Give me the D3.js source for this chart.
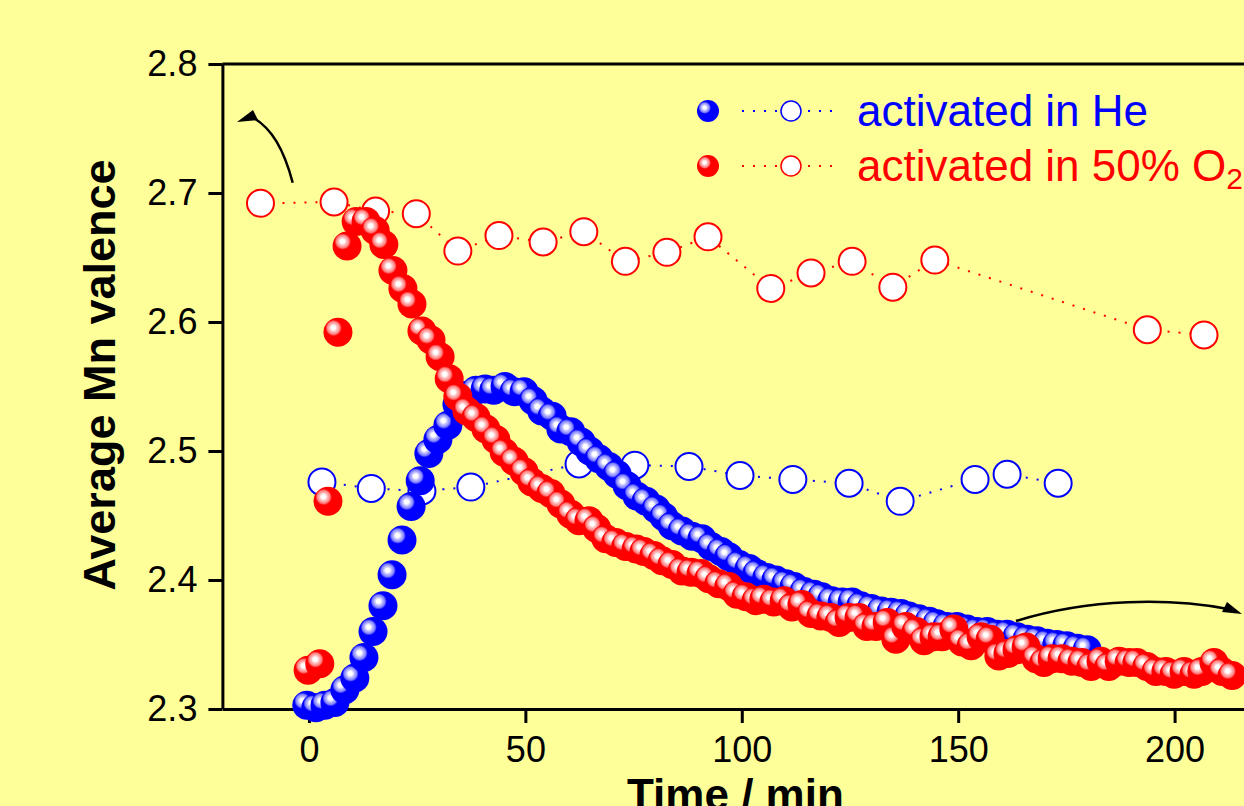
<!DOCTYPE html>
<meta charset="utf-8">
<style>
body { margin: 0; background: #ffff99; }
svg { display: block; background: #ffff99; }
.axis text { font: 36px "Liberation Sans", Arial, sans-serif; fill: #000; }
.axis path, .axis line { stroke: #000; stroke-width: 3; }
.title { font: bold 44px "Liberation Sans", Arial, sans-serif; fill: #000; }
.legend { font: 44px "Liberation Sans", Arial, sans-serif; }
</style>
<svg width="1244" height="806"></svg>
<script src="https://d3js.org/d3.v7.min.js"></script>
<script>

// filled spheres: time-resolved, activated in He
var heTime = [-0.5, 1.6, 3.7, 6.0, 8.3, 10.6, 12.7, 14.8, 17.1, 19.2,
  21.5, 23.6, 25.7, 27.7, 29.8, 32.1, 34.2, 36.3, 38.6, 40.7,
  42.7, 45.3, 47.4, 49.7, 51.8, 53.8, 56.2, 58.2, 60.5, 62.9,
  64.9, 67.0, 69.3, 71.2, 73.5, 75.8, 77.9, 80.2, 82.0, 83.9,
  86.2, 88.5, 90.8, 92.9, 95.2, 97.0, 99.4, 101.7, 103.5, 105.8,
  107.9, 110.2, 112.1, 114.4, 116.7, 118.5, 120.8, 123.2, 125.5, 127.5,
  129.9, 132.2, 134.5, 136.8, 138.6, 140.9, 143.3, 145.1, 147.4, 149.7,
  152.0, 154.3, 156.7, 159.0, 161.3, 163.6, 165.9, 168.2, 170.5, 172.8,
  175.1, 177.5, 179.8];
var heVal = [2.303, 2.301, 2.303, 2.305, 2.315, 2.324, 2.340, 2.360, 2.380, 2.404,
  2.431, 2.457, 2.477, 2.498, 2.509, 2.520, 2.536, 2.543, 2.547, 2.548,
  2.547, 2.550, 2.546, 2.546, 2.539, 2.531, 2.527, 2.517, 2.515, 2.507,
  2.500, 2.494, 2.488, 2.482, 2.473, 2.465, 2.461, 2.455, 2.449, 2.442,
  2.438, 2.434, 2.432, 2.426, 2.422, 2.418, 2.412, 2.409, 2.405, 2.402,
  2.400, 2.397, 2.395, 2.391, 2.389, 2.387, 2.384, 2.383, 2.383, 2.380,
  2.378, 2.376, 2.375, 2.374, 2.372, 2.370, 2.368, 2.366, 2.364, 2.364,
  2.362, 2.360, 2.360, 2.358, 2.358, 2.356, 2.354, 2.353, 2.351, 2.350,
  2.349, 2.347, 2.346];

// filled spheres: time-resolved, activated in 50% O2
var o2Time = [-0.2, 2.5, 4.4, 6.7, 8.8, 10.9, 13.2, 15.3, 17.3, 19.4,
  21.7, 23.8, 26.1, 28.2, 30.3, 32.4, 34.4, 36.5, 38.6, 40.9,
  43.2, 45.1, 47.4, 49.7, 51.5, 53.8, 55.9, 58.2, 60.5, 62.4,
  64.7, 66.5, 68.6, 70.9, 73.2, 75.6, 77.4, 79.7, 81.6, 83.9,
  86.2, 88.3, 90.6, 92.4, 94.7, 97.0, 98.9, 101.0, 103.3, 105.1,
  107.4, 109.8, 111.6, 113.9, 116.0, 118.3, 120.6, 122.5, 124.8, 127.1,
  128.9, 131.0, 133.6, 135.6, 137.9, 140.3, 142.1, 144.4, 146.3, 149.0,
  150.9, 153.0, 155.3, 157.4, 159.4, 161.5, 163.6, 165.7, 168.0, 169.8,
  171.7, 174.0, 176.3, 178.6, 180.7, 183.0, 184.8, 187.2, 189.5, 191.3,
  193.6, 195.7, 198.0, 199.9, 202.2, 204.5, 206.3, 209.1, 211.0, 213.3];
var o2Val = [2.330, 2.335, 2.461, 2.592, 2.659, 2.678, 2.678, 2.671, 2.660, 2.640,
  2.626, 2.614, 2.593, 2.586, 2.573, 2.556, 2.542, 2.531, 2.526, 2.517,
  2.509, 2.499, 2.492, 2.484, 2.476, 2.471, 2.467, 2.459, 2.451, 2.446,
  2.446, 2.440, 2.432, 2.429, 2.426, 2.424, 2.422, 2.419, 2.415, 2.412,
  2.407, 2.406, 2.405, 2.401, 2.397, 2.395, 2.389, 2.387, 2.384, 2.385,
  2.383, 2.384, 2.379, 2.381, 2.374, 2.372, 2.371, 2.367, 2.371, 2.371,
  2.364, 2.364, 2.367, 2.354, 2.364, 2.360, 2.353, 2.356, 2.356, 2.362,
  2.352, 2.349, 2.356, 2.354, 2.341, 2.343, 2.346, 2.348, 2.339, 2.336,
  2.339, 2.339, 2.337, 2.336, 2.333, 2.337, 2.333, 2.337, 2.336, 2.336,
  2.333, 2.329, 2.329, 2.327, 2.329, 2.327, 2.329, 2.336, 2.329, 2.326];

// open circles (second set of measurements)
var heOpenTime = [3.0, 14.4, 26.1, 37.4, 62.4, 75.3, 87.8, 99.6, 111.8, 124.8, 136.6, 153.9, 161.3, 173.1];
var heOpenVal = [2.476, 2.471, 2.469, 2.472, 2.490, 2.489, 2.488, 2.481, 2.478, 2.475, 2.461, 2.478, 2.482, 2.475];
var o2OpenTime = [-11.2, 5.8, 15.4, 24.8, 34.4, 43.9, 54.1, 63.5, 73.1, 82.7, 92.2, 106.7, 116.0, 125.5, 134.9, 144.6, 193.7, 206.8];
var o2OpenVal = [2.692, 2.693, 2.686, 2.684, 2.655, 2.667, 2.662, 2.670, 2.647, 2.654, 2.666, 2.626, 2.638, 2.647, 2.627, 2.648, 2.594, 2.590];

var xMajor = [0, 50, 100, 150, 200];
var xMinor = [25, 75, 125, 175, 225];
var yMajor = [2.3, 2.4, 2.5, 2.6, 2.7, 2.8];
var yMinor = [2.35, 2.45, 2.55, 2.65, 2.75];

var svg = d3.select("svg");

var x = d3.scaleLinear().domain([-20, 250]).range([222.4, 1391]),
    y = d3.scaleLinear().domain([2.3, 2.8]).range([709, 64]);

function pairs(t, v) {
  return t.map(function(d, i) { return [d, v[i]]; });
}

// sphere gradients
var defs = svg.append("defs");
function sphere(id, light, mid, col) {
  var g = defs.append("radialGradient").attr("id", id)
      .attr("cx", 0.36).attr("cy", 0.36).attr("fx", 0.34).attr("fy", 0.34).attr("r", 0.5);
  g.append("stop").attr("offset", 0).attr("stop-color", "#fff");
  g.append("stop").attr("offset", 0.14).attr("stop-color", "#fff");
  g.append("stop").attr("offset", 0.26).attr("stop-color", light);
  g.append("stop").attr("offset", 0.44).attr("stop-color", mid);
  g.append("stop").attr("offset", 0.56).attr("stop-color", col);
  g.append("stop").attr("offset", 1).attr("stop-color", col);
}
sphere("gBlue", "#c4c4ff", "#7d7dff", "#0000ff");
sphere("gRed", "#ffc4c4", "#ff7d7d", "#ff0000");

// axes
var gx = svg.append("g").attr("class", "axis").attr("transform", "translate(0,709)");
gx.call(d3.axisBottom(x).tickValues(xMinor).tickSize(7).tickSizeOuter(0).tickFormat(""));
gx.call(d3.axisBottom(x).tickValues(xMajor).tickSize(14).tickSizeOuter(0).tickPadding(13).tickFormat(d3.format("d")));

var gy = svg.append("g").attr("class", "axis").attr("transform", "translate(222.4,0)");
gy.call(d3.axisLeft(y).tickValues(yMinor).tickSize(7).tickSizeOuter(0).tickFormat(""));
gy.call(d3.axisLeft(y).tickValues(yMajor).tickSize(14).tickSizeOuter(0).tickPadding(11).tickFormat(d3.format(".1f")));

svg.append("line").attr("x1", 222.4).attr("x2", 1244).attr("y1", 64).attr("y2", 64)
    .attr("stroke", "#000").attr("stroke-width", 3);

// open circles with dotted connectors
var line = d3.line().x(function(d) { return x(d[0]); }).y(function(d) { return y(d[1]); });
[[heOpenTime, heOpenVal, "#0000ff"], [o2OpenTime, o2OpenVal, "#ff0000"]].forEach(function(s) {
  var data = pairs(s[0], s[1]);
  svg.append("path").datum(data).attr("d", line)
      .attr("fill", "none").attr("stroke", s[2]).attr("stroke-width", 2)
      .attr("stroke-dasharray", "2,9");
  svg.append("g").selectAll("circle").data(data).join("circle")
      .attr("cx", function(d) { return x(d[0]); })
      .attr("cy", function(d) { return y(d[1]); })
      .attr("r", 13.5).attr("fill", "#fff").attr("stroke", s[2]).attr("stroke-width", 2);
});

// filled spheres (He under O2)
[[heTime, heVal, "gBlue"], [o2Time, o2Val, "gRed"]].forEach(function(s) {
  svg.append("g").selectAll("circle").data(pairs(s[0], s[1])).join("circle")
      .attr("cx", function(d) { return x(d[0]); })
      .attr("cy", function(d) { return y(d[1]); })
      .attr("r", 14.5).attr("fill", "url(#" + s[2] + ")");
});

// arrows
var arrows = [
  {d: "M292.7,182.7 C284,150 272,128 252,117", tip: [[237, 122], [253, 110], [258, 120]]},
  {d: "M1016,621 C1090,598 1170,598 1228,609", tip: [[1242, 614], [1227, 602], [1222, 612]]}
];
arrows.forEach(function(a) {
  svg.append("path").attr("d", a.d).attr("fill", "none").attr("stroke", "#000").attr("stroke-width", 2.5);
  svg.append("path").attr("d", "M" + a.tip.join("L") + "Z").attr("fill", "#000");
});

// legend
var legend = [
  {y: 111, col: "#0000ff", grad: "gBlue", text: "activated in He"},
  {y: 166, col: "#ff0000", grad: "gRed", text: "activated in 50% O"}
];
legend.forEach(function(l, i) {
  var g = svg.append("g");
  g.append("line").attr("x1", 742).attr("x2", 834).attr("y1", l.y).attr("y2", l.y)
      .attr("stroke", l.col).attr("stroke-width", 2).attr("stroke-dasharray", "2,9");
  g.append("circle").attr("cx", 708).attr("cy", l.y).attr("r", 11).attr("fill", "url(#" + l.grad + ")");
  g.append("circle").attr("cx", 791).attr("cy", l.y).attr("r", 10).attr("fill", "#fff")
      .attr("stroke", l.col).attr("stroke-width", 1.5);
  var t = g.append("text").attr("class", "legend").attr("x", 857).attr("y", l.y + 15)
      .attr("fill", l.col).text(l.text);
  if (i === 1) t.append("tspan").attr("dy", 8).style("font-size", "30px").text("2");
});

// axis titles
svg.append("text").attr("class", "title")
    .attr("transform", "translate(115,375) rotate(-90)")
    .attr("text-anchor", "middle").style("font-size", "45px").text("Average Mn valence");
svg.append("text").attr("class", "title")
    .attr("x", 627).attr("y", 810).text("Time / min");

</script>
